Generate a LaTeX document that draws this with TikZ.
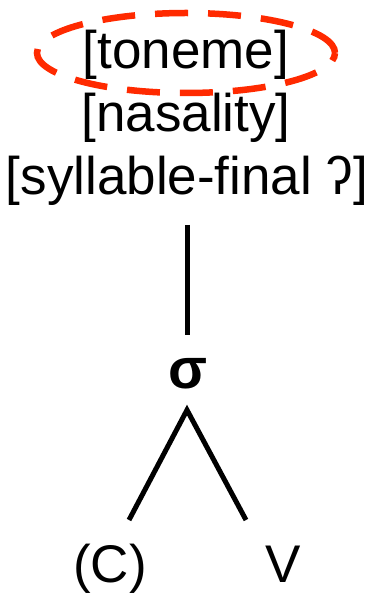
\documentclass[tikz,border=0pt]{standalone}
\usepackage{fontspec}
\setmainfont{Liberation Sans}
\begin{document}
\begin{tikzpicture}[x=1pt,y=-1pt,
  lbl/.style={inner sep=0pt, anchor=base, font=\fontsize{53}{63}\selectfont},
  branch/.style={line width=5pt, line cap=butt},
  ring/.style={draw={rgb,255:red,255;green,42;blue,0}, line width=6.5pt, dash pattern=on 33pt off 20pt}]
\useasboundingbox (0,0) rectangle (372,593);
\node[lbl] (toneme) at (186,69) {[toneme]};
\node[lbl] (nasal) at (186,132) {[nasality]};
\node[lbl] (final) at (187,195) {[syllable-final ʔ]};
\draw[ring] (186,53) ellipse [x radius=149pt, y radius=40pt];
\coordinate (vtop) at (187,225);
\coordinate (vbot) at (187,335);
\draw[line width=5pt] (vtop) -- (vbot);
\node[lbl, font=\fontsize{57}{60}\selectfont\bfseries] (sigma) at (188,388) {σ};
\coordinate (apex) at (187,410);
\coordinate (lend) at (129,520);
\coordinate (rend) at (246,520);
\draw[branch] (lend) -- (apex) -- (rend);
\node[lbl] (C) at (110,582) {(C)};
\node[lbl] (V) at (283,582) {V};
\end{tikzpicture}
\end{document}
